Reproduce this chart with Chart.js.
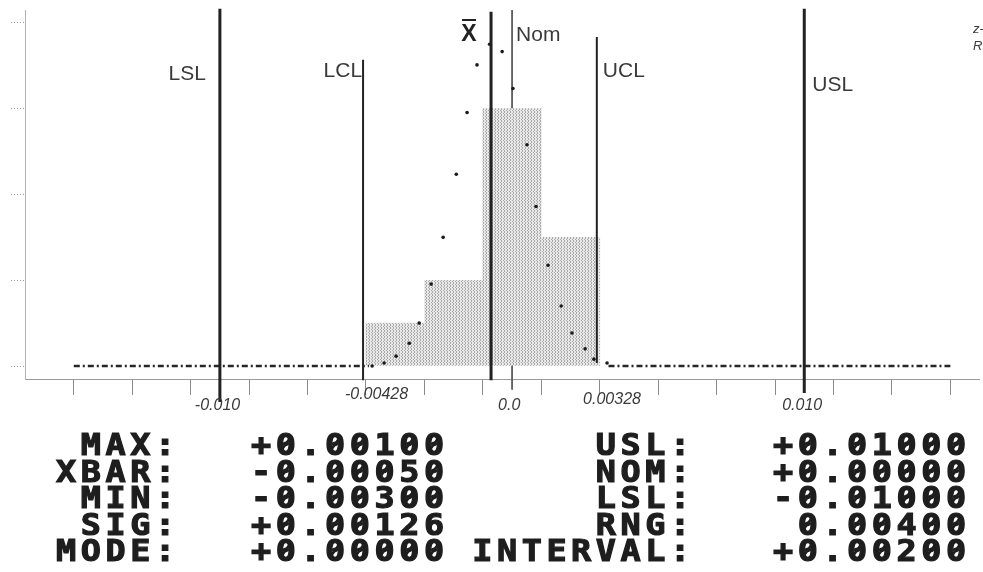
<!DOCTYPE html>
<html>
<head>
<meta charset="utf-8">
<script src="https://cdn.jsdelivr.net/npm/chart.js@4.4.0/dist/chart.umd.min.js"></script>
<style>
html, body { margin: 0; padding: 0; background: #fff; overflow: hidden; }
canvas { display: block; }
</style>
</head>
<body>
<canvas id="chart" width="983" height="572"></canvas>
<script>
// histogram: centre of each 0.002 class and its count
var binCentres = [-0.004, -0.002, 0.000, 0.002];
var binCounts = [1, 2, 6, 3];

// fitted normal curve, dots
var curveX = [-0.00479, -0.00438, -0.00397, -0.00352, -0.00318, -0.00277, -0.00236, -0.00191,
              -0.00154, -0.00120, -0.00077, -0.00034, 0.00003, 0.00051, 0.00082, 0.00123,
              0.00168, 0.00205, 0.00250, 0.00280, 0.00325];
var curveY = [0.00, 0.07, 0.23, 0.53, 1.00, 1.91, 3.00, 4.47,
              5.91, 7.02, 7.50, 7.33, 6.47, 5.16, 3.72, 2.35,
              1.40, 0.77, 0.40, 0.16, 0.07];
// flat tails of the curve (dash-dot)
var tailLeftX = [-0.0150, -0.0049];
var tailRightX = [0.0033, 0.0150];

// vertical reference lines
var refNames = ['LSL', 'LCL', 'XBAR', 'Nom', 'UCL', 'USL'];
var refX = [-0.0100, -0.0051, -0.00072, 0.0000, 0.0029, 0.0100];
var refTop = [8.33, 7.14, 8.26, 8.30, 7.67, 8.33];
var refBottom = [-0.84, -0.33, -0.33, -0.55, 0.07, -0.63];

// axis ticks
var xTicks = [-0.015, -0.013, -0.011, -0.009, -0.007, -0.005, -0.003, -0.001,
              0.001, 0.003, 0.005, 0.007, 0.009, 0.011, 0.013, 0.015];
var yTicks = [0, 2, 4, 6, 8];

// hand written notes under the axis
var axisNotes = ['-0.010', '-0.00428', '0.0', '0.00328', '0.010'];
var axisNoteX = [-0.01008, -0.00464, -0.0001, 0.00342, 0.00993];

// summary block
var statLabelsLeft = ['MAX:', 'XBAR:', 'MIN:', 'SIG:', 'MODE:'];
var statValuesLeft = ['+0.00100', '-0.00050', '-0.00300', '+0.00126', '+0.00000'];
var statLabelsRight = ['USL:', 'NOM:', 'LSL:', 'RNG:', 'INTERVAL:'];
var statValuesRight = ['+0.01000', '+0.00000', '-0.01000', '0.00400', '+0.00200'];

// stippled fill like the plotter shading
function makePattern() {
	var p = document.createElement('canvas');
	p.width = 3; p.height = 3;
	var g = p.getContext('2d');
	g.fillStyle = '#e8e8e8';
	g.fillRect(0, 0, 3, 3);
	g.fillStyle = '#a9a9a9';
	g.fillRect(0, 0, 1, 2);
	g.fillRect(2, 2, 1, 1);
	return g.createPattern(p, 'repeat');
}

var ctx = document.getElementById('chart').getContext('2d');

var datasets = [];
// reference lines on top
refNames.forEach(function(name, i){
	datasets.push({
		type: 'line',
		label: name,
		data: [{x: refX[i], y: refTop[i]}, {x: refX[i], y: refBottom[i]}],
		borderColor: name == 'Nom' ? '#555' : '#222',
		borderWidth: [3, 2, 3, 1, 2, 3][i],
		pointRadius: 0,
		clip: false,
		order: name == 'Nom' ? 20 : 1
	});
});
datasets.push({
	type: 'scatter',
	label: 'curve',
	data: curveX.map(function(x, i){ return {x: x, y: curveY[i]}; }),
	pointRadius: 1.8,
	pointBackgroundColor: '#1a1a1a',
	pointBorderWidth: 0,
	order: 2
});
[tailLeftX, tailRightX].forEach(function(t){
	datasets.push({
		type: 'line',
		label: 'tail',
		data: t.map(function(x){ return {x: x, y: 0}; }),
		borderColor: '#262626',
		borderWidth: 2.5,
		borderDash: [6, 3, 2, 3],
		pointRadius: 0,
		clip: false,
		order: 3
	});
});
datasets.push({
	type: 'bar',
	label: 'count',
	data: binCentres.map(function(c, i){ return {x: c, y: binCounts[i]}; }),
	backgroundColor: makePattern(),
	borderWidth: 0,
	barPercentage: 1.0,
	categoryPercentage: 1.0,
	grouped: false,
	order: 10
});

var notes = {
	id: 'notes',
	afterDraw: function(chart){
		var c = chart.ctx;
		var xs = chart.scales.x;
		var px = function(v){ return xs.getPixelForValue(v); };
		c.save();
		// hand written line labels
		c.fillStyle = '#3a3a3a';
		c.font = '21px "Liberation Sans"';
		c.textBaseline = 'middle';
		c.textAlign = 'right';
		c.fillText('LSL', px(refX[0]) - 14, 74);
		c.fillText('LCL', px(refX[1]) - 1, 71);
		c.textAlign = 'left';
		c.fillText('Nom', px(refX[3]) + 4, 35);
		c.fillText('UCL', px(refX[4]) + 6, 71);
		c.fillText('USL', px(refX[5]) + 8, 85);
		// x-bar symbol
		c.fillStyle = '#222';
		c.font = 'bold 23px "Liberation Sans"';
		c.textAlign = 'center';
		var xb = px(refX[2]) - 22;
		c.fillText('X', xb, 35);
		c.fillRect(xb - 7, 19, 14, 2);
		// corner scribble, cut by the page edge
		c.fillStyle = '#3a3a3a';
		c.font = 'italic 13px "Liberation Sans"';
		c.textAlign = 'left';
		c.fillText('z-', 973, 29);
		c.fillText('Ri', 973, 46);
		// notes under the axis
		c.font = 'italic 16px "Liberation Sans"';
		c.textAlign = 'center';
		var noteY = [406, 395, 406, 400, 406];
		axisNotes.forEach(function(t, i){ c.fillText(t, px(axisNoteX[i]), noteY[i]); });
		// dot-matrix summary block
		c.fillStyle = '#1e1e1e';
		c.strokeStyle = '#1e1e1e';
		c.font = 'bold 31px "DejaVu Sans Mono"';
		c.textAlign = 'center';
		c.textBaseline = 'alphabetic';
		var adv = 24.7;
		function cells(s, lastCentre, y){
			for (var k = 0; k < s.length; k++) {
				var cx = lastCentre - (s.length - 1 - k) * adv;
				c.save();
				c.translate(cx, y);
				c.scale(1.08, 1);
				c.lineWidth = 1.2;
				c.fillText(s[k], 0, 0);
				c.strokeText(s[k], 0, 0);
				if (s[k] == '0') {
					// slashed zero of the printer font
					c.lineWidth = 2.4;
					c.beginPath();
					c.moveTo(-4, -5);
					c.lineTo(4, -17);
					c.stroke();
				}
				c.restore();
			}
		}
		for (var r = 0; r < statLabelsLeft.length; r++) {
			var y = 455 + r * 26.5;
			cells(statLabelsLeft[r], 165, y);
			cells(statValuesLeft[r], 434, y);
			cells(statLabelsRight[r], 680, y);
			cells(statValuesRight[r], 956, y);
		}
		c.restore();
	}
};

new Chart(ctx, {
	type: 'bar',
	data: { datasets: datasets },
	options: {
		responsive: false,
		animation: false,
		events: [],
		layout: { padding: { left: 11, right: 0, top: 10, bottom: 177 } },
		plugins: { legend: { display: false }, tooltip: { enabled: false } },
		scales: {
			x: {
				type: 'linear',
				offset: false,
				min: -0.01667,
				max: 0.01598,
				afterBuildTicks: function(s){ s.ticks = xTicks.map(function(v){ return {value: v}; }); },
				ticks: { display: false },
				grid: { drawOnChartArea: false, offset: false, tickLength: 16, color: '#8a8a8a', lineWidth: 1 },
				border: { color: '#9a9a9a', dash: [1, 2], width: 1 }
			},
			y: {
				type: 'linear',
				min: -0.303,
				max: 8.30,
				afterBuildTicks: function(s){ s.ticks = yTicks.map(function(v){ return {value: v}; }); },
				ticks: { display: false },
				grid: { drawOnChartArea: false, tickLength: 14, color: '#9a9a9a', tickBorderDash: [1, 2] },
				border: { color: '#b0b0b0', width: 1 }
			}
		}
	},
	plugins: [notes]
});
</script>
</body>
</html>
